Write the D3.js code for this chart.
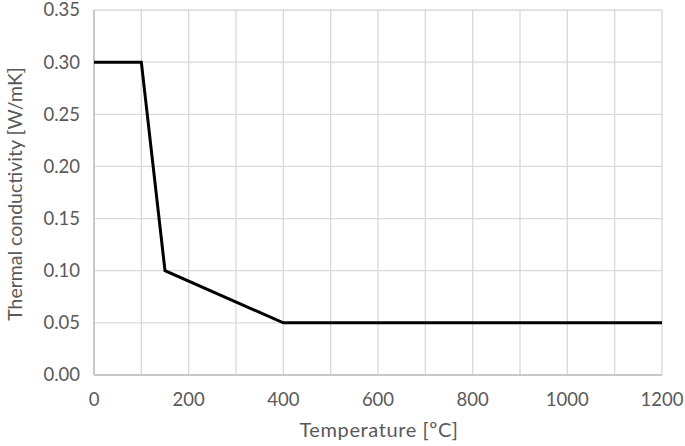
<!DOCTYPE html>
<html><head><meta charset="utf-8">
<script src="https://cdn.jsdelivr.net/npm/d3@7"></script>
<style>body{margin:0;background:#fff}svg{display:block}</style>
</head><body>
<svg id="c" width="685" height="446"></svg>
<script>
const temps = [0, 100, 150, 400, 1200];
const conductivity = [0.30, 0.30, 0.10, 0.05, 0.05];
const xTicks = [0, 200, 400, 600, 800, 1000, 1200];
const xGrid = [0, 100, 200, 300, 400, 500, 600, 700, 800, 900, 1000, 1100, 1200];
const yTicks = [0, 0.05, 0.10, 0.15, 0.20, 0.25, 0.30, 0.35];
const xTitle = "Temperature [ºC]";
const yTitle = "Thermal conductivity [W/mK]";

const svg = d3.select("#c");
const m = {l: 94, r: 662, t: 10, b: 375};
const x = d3.scaleLinear().domain([0, 1200]).range([m.l, m.r]);
const y = d3.scaleLinear().domain([0, 0.35]).range([m.b, m.t]);
const font = "Lato, 'Open Sans', sans-serif";
const txt = "#595959";

const g = svg.append("g");
g.selectAll(".vg").data(xGrid).join("line")
  .attr("x1", d => x(d)).attr("x2", d => x(d)).attr("y1", m.t).attr("y2", m.b)
  .attr("stroke", "#d9d9d9").attr("stroke-width", 1.3);
g.selectAll(".hg").data(yTicks).join("line")
  .attr("x1", m.l).attr("x2", m.r).attr("y1", d => y(d)).attr("y2", d => y(d))
  .attr("stroke", "#d9d9d9").attr("stroke-width", 1.3);
// axis lines
g.append("line").attr("x1", m.l).attr("x2", m.l).attr("y1", m.t).attr("y2", m.b).attr("stroke", "#bfbfbf").attr("stroke-width", 1.5);
g.append("line").attr("x1", m.l).attr("x2", m.r).attr("y1", m.b).attr("y2", m.b).attr("stroke", "#bfbfbf").attr("stroke-width", 1.5);

// tick labels
svg.selectAll(".yl").data(yTicks).join("text")
  .attr("x", 80).attr("y", d => y(d)).attr("dy", "0.35em")
  .attr("text-anchor", "end").attr("font-family", font).attr("font-size", 18.5).attr("fill", txt)
  .text(d => d3.format(".2f")(d));
svg.selectAll(".xl").data(xTicks).join("text")
  .attr("x", d => x(d)).attr("y", 406)
  .attr("text-anchor", "middle").attr("font-family", font).attr("font-size", 18.5).attr("fill", txt)
  .text(d => d);

// titles
svg.append("text").attr("x", 379).attr("y", 437)
  .attr("text-anchor", "middle").attr("font-family", font).attr("font-size", 20).attr("letter-spacing", 0.6).attr("fill", txt)
  .text(xTitle);
svg.append("text").attr("transform", `translate(22,194) rotate(-90)`)
  .attr("text-anchor", "middle").attr("font-family", font).attr("font-size", 19.5).attr("fill", txt)
  .text(yTitle);

// line
const data = temps.map((t, i) => [t, conductivity[i]]);
svg.append("path").datum(data)
  .attr("d", d3.line().x(d => x(d[0])).y(d => y(d[1])))
  .attr("fill", "none").attr("stroke", "#000").attr("stroke-width", 3).attr("stroke-linejoin", "miter");
</script>
</body></html>
